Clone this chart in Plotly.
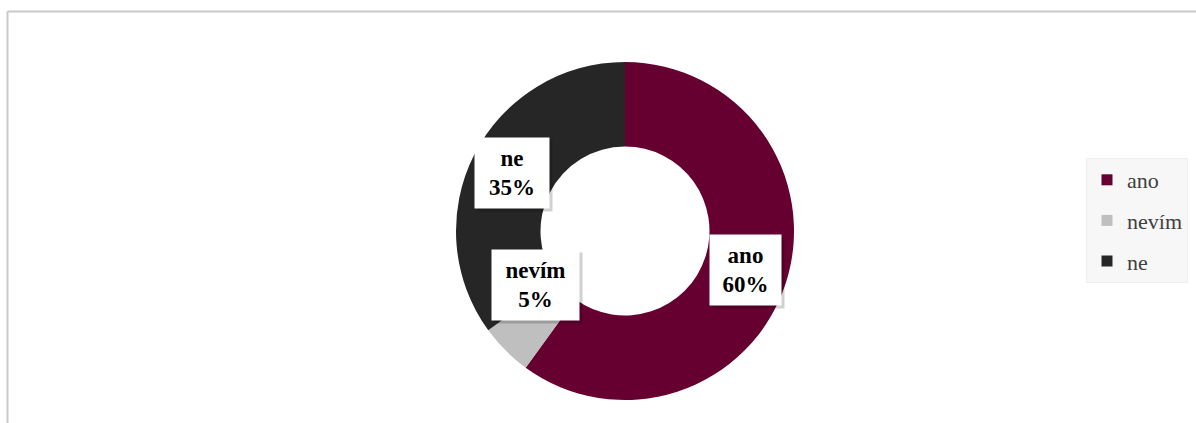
import math
import plotly.graph_objects as go

categories = ["ano", "nevím", "ne"]
values = [60, 5, 35]
colors = ["#650030", "#bfbfbf", "#262626"]

W, H = 1196, 423
cx, cy, R = 625, 231, 169  # pixel geometry of the donut
hole = 0.5
FONT = "Liberation Serif, Times New Roman, serif"
box_widths = [61, 77, 64]  # label box text widths (style)
box_h = 60

dom_x = [(cx - R) / W, (cx + R) / W]
dom_y = [1 - (cy + R) / H, 1 - (cy - R) / H]

fig = go.Figure()
fig.add_trace(go.Pie(
    labels=categories, values=values, hole=hole, sort=False,
    direction="clockwise", rotation=0,
    marker=dict(colors=colors, line=dict(width=0)),
    textinfo="none", hoverinfo="label+percent", showlegend=False,
    domain=dict(x=dom_x, y=dom_y),
))

# legend entries drawn through the library's legend
for c, col in zip(categories, colors):
    fig.add_trace(go.Scatter(
        x=[None], y=[None], mode="markers", name=c, legendgroup=c,
        marker=dict(symbol="square", size=11, color=col),
    ))

# data labels at mid-ring of each slice
total = sum(values)
cum = 0
rmid = R * (1 + hole) / 2
for c, v, bw in zip(categories, values, box_widths):
    mid = (cum + v / 2) / total * 2 * math.pi
    cum += v
    px = cx + rmid * math.sin(mid)
    py = cy - rmid * math.cos(mid)
    ax = px / W
    ay = 1 - py / H
    txt = f"<b>{c}<br>{round(v / total * 100)}%</b>"
    # shadow box
    fig.add_annotation(x=ax, y=ay, xref="paper", yref="paper", text="&nbsp;",
                       showarrow=False, xshift=3, yshift=-3, width=bw, height=box_h,
                       font=dict(family=FONT, size=23, color="rgba(0,0,0,0)"),
                       bgcolor="rgba(0,0,0,0.18)", borderpad=5)
    fig.add_annotation(x=ax, y=ay, xref="paper", yref="paper", text=txt,
                       showarrow=False, width=bw, height=box_h,
                       font=dict(family=FONT, size=23, color="#000000"),
                       bgcolor="#ffffff", borderpad=5)

# chart-area border (top and left edges visible)
fig.add_shape(type="line", xref="paper", yref="paper",
              x0=7.5 / W, x1=1.01, y0=1 - 11.5 / H, y1=1 - 11.5 / H,
              line=dict(color="#c9c9c9", width=2))
fig.add_shape(type="line", xref="paper", yref="paper",
              x0=7.5 / W, x1=7.5 / W, y0=1 - 11.5 / H, y1=-0.01,
              line=dict(color="#c9c9c9", width=2))

fig.update_layout(
    width=W, height=H, margin=dict(l=0, r=0, t=0, b=0),
    paper_bgcolor="#ffffff", plot_bgcolor="#ffffff",
    xaxis=dict(visible=False), yaxis=dict(visible=False),
    showlegend=True,
    legend=dict(
        x=1086 / W, y=1 - 158 / H, xanchor="left", yanchor="top",
        bgcolor="#f7f7f7", bordercolor="#eeeeee", borderwidth=1,
        font=dict(family=FONT, size=22, color="#404040"),
        tracegroupgap=9, itemwidth=30,
    ),
)

fig.write_html("out.html", config={"displayModeBar": False},
               post_script="document.body.style.margin='0px';")
